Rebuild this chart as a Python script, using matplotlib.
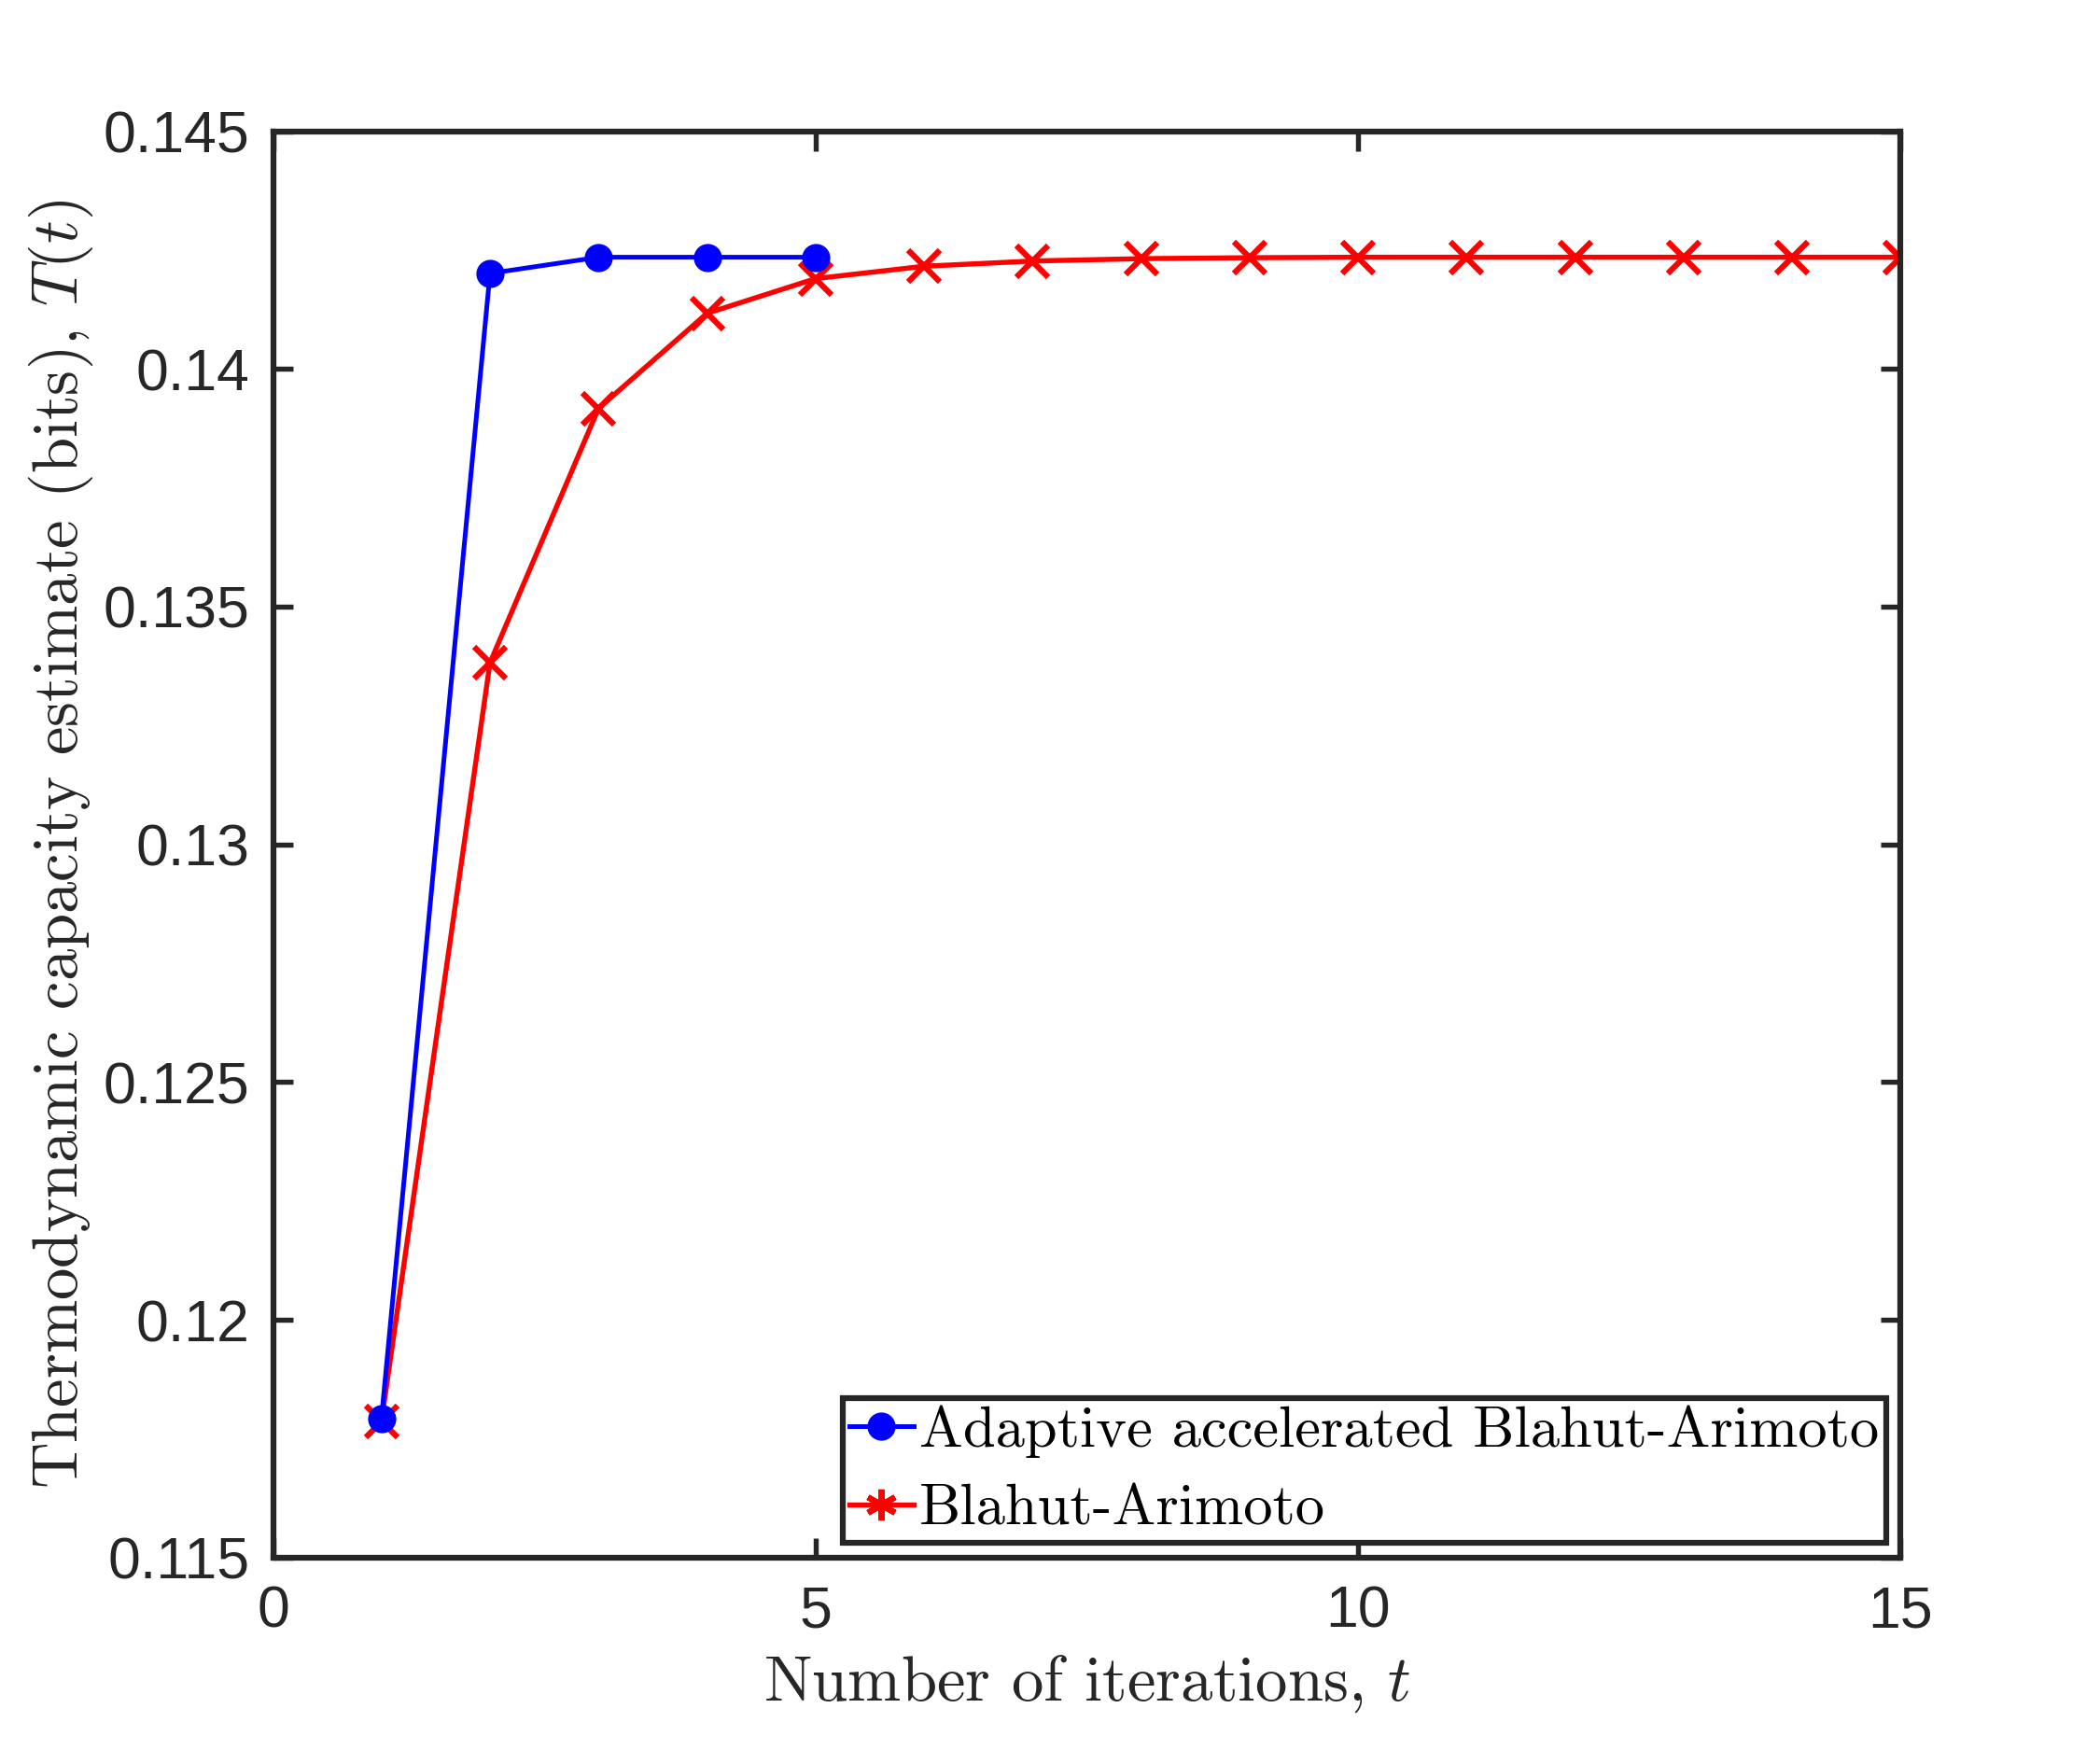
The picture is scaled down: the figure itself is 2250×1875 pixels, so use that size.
import numpy as np
import matplotlib
matplotlib.use("Agg")
import matplotlib.pyplot as plt
from matplotlib.lines import Line2D

# data
t_adaptive = [1, 2, 3, 4, 5]
T_adaptive = [0.11793, 0.14201, 0.14235, 0.14235, 0.14235]

t_ba = list(range(1, 16))
T_ba = [0.11787, 0.13382, 0.13917, 0.14117, 0.14190, 0.14216, 0.14227,
        0.14232, 0.14234, 0.14235, 0.14235, 0.14235, 0.14235, 0.14235, 0.14235]

x_ticks = [0, 5, 10, 15]
y_ticks = [0.115, 0.12, 0.125, 0.13, 0.135, 0.14, 0.145]
y_tick_labels = ["0.115", "0.12", "0.125", "0.13", "0.135", "0.14", "0.145"]

legend_labels = ["Adaptive accelerated Blahut-Arimoto", "Blahut-Arimoto"]

plt.rcParams['mathtext.fontset'] = 'cm'
plt.rcParams['axes.unicode_minus'] = False
dark = '#262626'

fig = plt.figure(figsize=(15, 12.5), dpi=150)
ax = fig.add_axes([0.130, 0.110, 0.775, 0.815])

ax.plot(t_ba, T_ba, color='red', lw=2.6, marker='x', markersize=16, mew=3.0)
ax.plot(t_adaptive, T_adaptive, color='blue', lw=2.4, marker='o', markersize=13.5)

ax.set_xlim(0, 15)
ax.set_ylim(0.115, 0.145)
ax.set_xticks(x_ticks)
ax.set_xticklabels([str(v) for v in x_ticks])
ax.set_yticks(y_ticks)
ax.set_yticklabels(y_tick_labels)

for s in ax.spines.values():
    s.set_linewidth(3.0)
    s.set_color(dark)
ax.tick_params(direction='in', length=10, width=2.6, top=True, right=True,
               labelsize=30, colors=dark)
ax.tick_params(axis='x', pad=14)
ax.tick_params(axis='y', pad=12)
for lbl in ax.get_xticklabels() + ax.get_yticklabels():
    lbl.set_family('Liberation Sans')

ax.set_xlabel("Number of iterations, $t$", family='cmr10', fontsize=33, color=dark, labelpad=7)
ax.set_ylabel("Thermodynamic capacity estimate (bits), $T(t)$", family='cmr10', fontsize=33,
              color=dark, labelpad=4)

# legend shows an asterisk for the second series
handles = [
    Line2D([], [], color='blue', lw=2.4, marker='o', markersize=13.5),
    Line2D([], [], color='red', lw=2.6, marker=(6, 2, 0), markersize=16, mew=3.0),
]
leg = ax.legend(handles, legend_labels, loc='lower right', fancybox=False, framealpha=1,
                edgecolor=dark, prop={'family': 'cmr10', 'size': 30}, handlelength=1.1,
                handletextpad=0.1, borderpad=0.12, labelspacing=0.45,
                borderaxespad=0.25)
leg.get_frame().set_linewidth(3.0)

fig.savefig("out.png", dpi=150, facecolor='white')
